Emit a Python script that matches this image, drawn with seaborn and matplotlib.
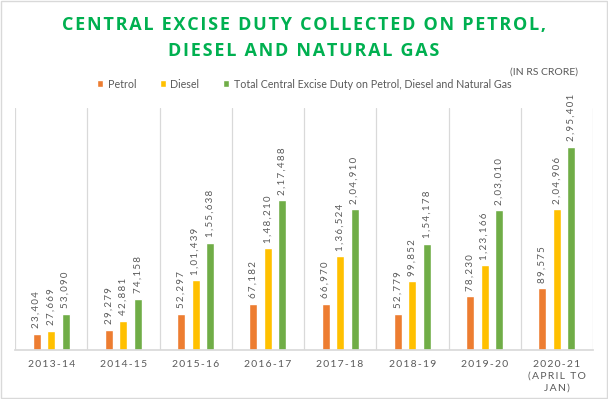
import matplotlib.pyplot as plt
import numpy as np
import pandas as pd
import seaborn as sns
from matplotlib.patches import Rectangle

years = ["2013-14", "2014-15", "2015-16", "2016-17", "2017-18", "2018-19", "2019-20", "2020-21"]
year_labels = ["2013-14", "2014-15", "2015-16", "2016-17", "2017-18", "2018-19", "2019-20",
               "2020-21\n(APRIL TO\nJAN)"]
series_names = ["Petrol", "Diesel", "Total Central Excise Duty on Petrol, Diesel and Natural Gas"]
petrol = [23404, 29279, 52297, 67182, 66970, 52779, 78230, 89575]
diesel = [27669, 42881, 101439, 148210, 136524, 99852, 123166, 204906]
total = [53090, 74158, 155638, 217488, 204910, 154178, 203010, 295401]

COLORS = ["#ED7D31", "#FFC000", "#70AD47"]
GREY = "#595959"
GRID = "#D9D9D9"


def inr(v):
    # Indian digit grouping: 1,55,638
    s = str(int(v))
    if len(s) <= 3:
        return s
    head, tail = s[:-3], s[-3:]
    parts = []
    while len(head) > 2:
        parts.insert(0, head[-2:])
        head = head[:-2]
    if head:
        parts.insert(0, head)
    return ",".join(parts + [tail])


def spaced(text, sep="\u2009"):
    return "\n".join(sep.join(line) for line in text.split("\n"))


df = pd.DataFrame({
    "year": years * 3,
    "value": petrol + diesel + total,
    "fuel": [series_names[0]] * 8 + [series_names[1]] * 8 + [series_names[2]] * 8,
})

sns.set_theme(style="white")
plt.rcParams["font.family"] = ["Lato", "DejaVu Sans"]

fig = plt.figure(figsize=(6.08, 3.99), dpi=100)
ax = fig.add_axes([15 / 608, 49 / 399, 578 / 608, 242 / 399])

sns.barplot(data=df, x="year", y="value", hue="fuel", palette=COLORS,
            width=0.6, gap=0.45, ax=ax, saturation=1)

handles, labels = ax.get_legend_handles_labels()
ax.get_legend().remove()

for cont in ax.containers:
    ax.bar_label(cont, labels=[spaced(inr(v)) for v in cont.datavalues],
                 rotation=90, padding=4, fontsize=7, color=GREY)

ax.set_xlim(-0.5, 7.5)
ax.set_ylim(0, 352000)
ax.set_xticks(range(len(years)))
ax.set_xticklabels([spaced(t) for t in year_labels], fontsize=7.5, color=GREY, linespacing=1.45)
ax.set_xticks(np.arange(-0.5, 8, 1), minor=True)
ax.grid(which="minor", axis="x", color=GRID, linewidth=0.9)
ax.tick_params(axis="x", which="both", length=0, pad=7)
ax.set_yticks([])
ax.set_xlabel("")
ax.set_ylabel("")
for side in ["left", "right", "top"]:
    ax.spines[side].set_visible(False)
ax.spines["bottom"].set_color(GRID)

title_font = dict(ha="center", va="center", fontsize=13, fontweight="bold", color="#00B050",
                  family=["Open Sans", "DejaVu Sans"])
fig.text(0.5, 1 - 25 / 399, spaced("CENTRAL EXCISE DUTY COLLECTED ON PETROL,", "\u200a"),
         **title_font)
fig.text(0.5, 1 - 51 / 399, spaced("DIESEL AND NATURAL GAS", "\u200a"), **title_font)
fig.text(578 / 608, 1 - 72 / 399, "(IN RS CRORE)", ha="right", va="center",
         fontsize=7.5, color=GREY)

fig.legend(handles, labels, loc="center left", bbox_to_anchor=(97 / 608, 1 - 84 / 399),
           ncol=3, frameon=False, fontsize=7.7, labelcolor=GREY,
           handlelength=0.6, handleheight=0.6, handletextpad=0.4, columnspacing=2.2,
           borderaxespad=0, borderpad=0)

fig.patches.append(Rectangle((0.002, 0.003), 0.996, 0.994, transform=fig.transFigure,
                             fill=False, edgecolor=GRID, linewidth=1))

fig.savefig("out.png", dpi=100)
plt.close(fig)
